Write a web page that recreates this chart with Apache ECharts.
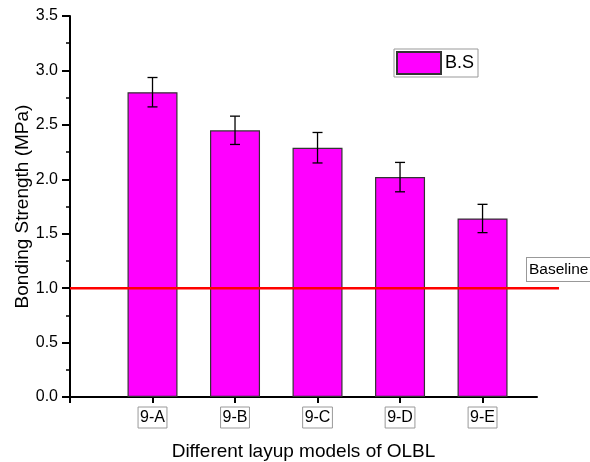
<!DOCTYPE html>
<html><head><meta charset="utf-8">
<script src="https://cdn.jsdelivr.net/npm/echarts@6/dist/echarts.min.js"></script>
<style>html,body{margin:0;padding:0;background:#fff}#c{width:590px;height:462px}</style>
</head><body><div id="c"></div>
<script>
const categories = ['9-A', '9-B', '9-C', '9-D', '9-E'];
const positions = [1, 2, 3, 4, 5];
const strength = [2.80, 2.45, 2.29, 2.02, 1.64];
const errors = [0.135, 0.13, 0.14, 0.135, 0.13];
const baselineValue = 1.0;
const yTicks = [0, 0.5, 1.0, 1.5, 2.0, 2.5, 3.0, 3.5];

const font = 'Liberation Sans, Arial, sans-serif';
const chart = echarts.init(document.getElementById('c'));
const barData = positions.map((p, i) => [p, strength[i]]);
const errData = positions.map((p, i) => [p, strength[i] - errors[i], strength[i] + errors[i]]);

chart.setOption({
  animation: false,
  backgroundColor: '#fff',
  grid: [
    {left: 70, right: 53, top: 16, bottom: 65, outerBoundsMode: 'none', containLabel: false},
    {left: 70, right: 31, top: 16, bottom: 65, outerBoundsMode: 'none', containLabel: false}
  ],
  legend: {
    data: ['B.S'], left: 394, top: 49,
    itemWidth: 44, itemHeight: 22, itemGap: 0,
    borderColor: '#999', borderWidth: 1, padding: [2, 4, 2, 2],
    textStyle: {fontFamily: font, fontSize: 18, color: '#000', padding: [0, 0, 0, -1]},
    icon: 'rect'
  },
  xAxis: [
    {
      type: 'value', gridIndex: 0, min: 0, max: 5.66, interval: 1,
      splitLine: {show: false},
      axisLine: {show: true, lineStyle: {color: '#000', width: 2}},
      axisTick: {show: true, length: 6, customValues: [0, 1, 2, 3, 4, 5], lineStyle: {color: '#000', width: 2}},
      axisLabel: {
        customValues: positions,
        formatter: v => categories[Math.round(v) - 1] || '',
        fontFamily: font, fontSize: 16, color: '#000',
        borderColor: '#999', borderWidth: 1, padding: [3, 2, 2, 2], margin: 10
      },
      name: 'Different layup models of OLBL', nameLocation: 'middle', nameGap: 45,
      nameTextStyle: {fontFamily: font, fontSize: 19, color: '#000'}
    },
    {type: 'value', gridIndex: 1, min: 0, max: 1, show: false}
  ],
  yAxis: [
    {
      type: 'value', gridIndex: 0, min: 0, max: 3.5, interval: 0.5,
      splitLine: {show: false},
      axisLine: {show: true, lineStyle: {color: '#000', width: 2}},
      axisTick: {show: true, length: 8, customValues: yTicks, lineStyle: {color: '#000', width: 2}},
      minorTick: {show: true, splitNumber: 2, length: 4, lineStyle: {color: '#000', width: 1.5}},
      axisLabel: {formatter: v => v.toFixed(1), fontFamily: font, fontSize: 16, color: '#000', margin: 12},
      name: 'Bonding Strength (MPa)', nameLocation: 'middle', nameGap: 38, nameMoveOverlap: false,
      nameTextStyle: {fontFamily: font, fontSize: 19, color: '#000'}
    },
    {type: 'value', gridIndex: 1, min: 0, max: 3.5, show: false}
  ],
  series: [
    {
      name: 'B.S', type: 'bar', xAxisIndex: 0, yAxisIndex: 0, data: barData, barWidth: 50,
      itemStyle: {color: '#ff00ff', borderColor: '#333', borderWidth: 1.2}
    },
    {
      type: 'custom', xAxisIndex: 0, yAxisIndex: 0, data: errData, z: 5,
      renderItem: (params, api) => {
        const x = api.value(0);
        const lo = api.coord([x, api.value(1)]);
        const hi = api.coord([x, api.value(2)]);
        const w = 5;
        const st = {stroke: '#000', lineWidth: 1.3};
        return {type: 'group', children: [
          {type: 'line', shape: {x1: lo[0], y1: lo[1], x2: hi[0], y2: hi[1]}, style: st},
          {type: 'line', shape: {x1: lo[0] - w, y1: lo[1], x2: lo[0] + w, y2: lo[1]}, style: st},
          {type: 'line', shape: {x1: hi[0] - w, y1: hi[1], x2: hi[0] + w, y2: hi[1]}, style: st}
        ]};
      }
    },
    {
      type: 'line', xAxisIndex: 1, yAxisIndex: 1, z: 10,
      data: [[0, baselineValue], [1, baselineValue]],
      symbol: 'none', lineStyle: {color: '#ff0000', width: 2.5}
    }
  ],
  graphic: [
    {type: 'text', left: 526, top: 257, style: {
      text: 'Baseline', fontFamily: font, fontSize: 15.5, fill: '#000',
      borderColor: '#999', borderWidth: 1, padding: [4, 2, 3, 2], backgroundColor: '#fff'
    }}
  ]
});
</script></body></html>
